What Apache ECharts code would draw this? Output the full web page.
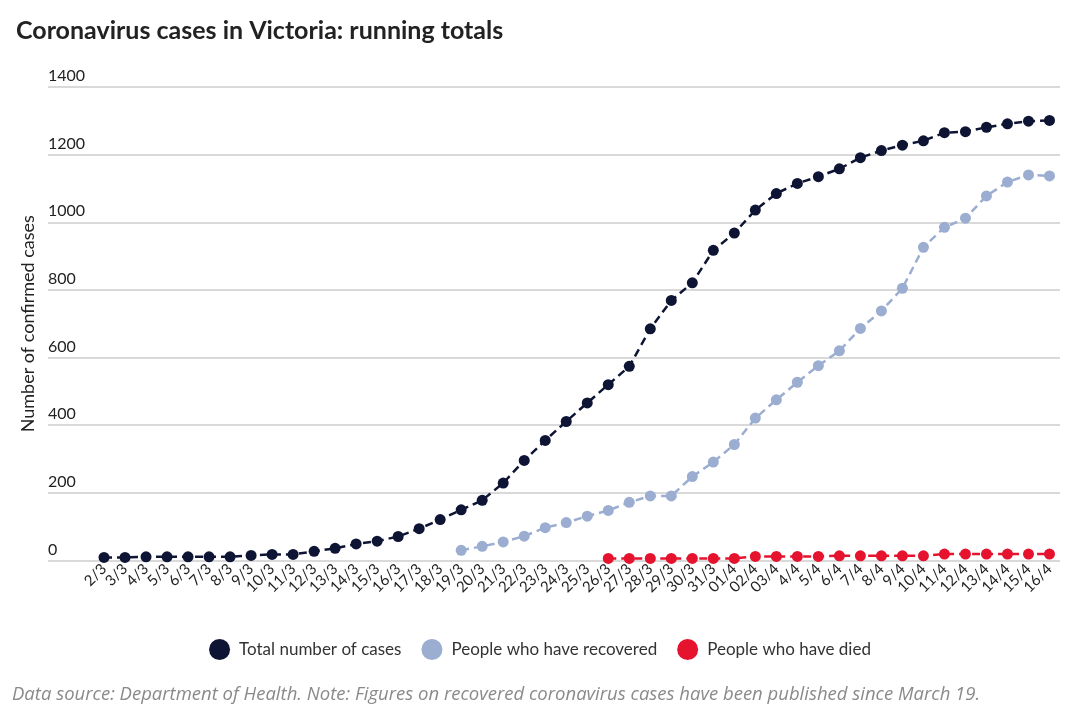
<!DOCTYPE html>
<html>
<head>
<meta charset="utf-8">
<script src="https://cdn.jsdelivr.net/npm/echarts@6/dist/echarts.min.js"></script>
<style>
html,body{margin:0;padding:0;background:#fff;}
#chart{width:1080px;height:718px;}
</style>
</head>
<body>
<div id="chart"></div>
<script>
const dates = ['2/3','3/3','4/3','5/3','6/3','7/3','8/3','9/3','10/3','11/3','12/3','13/3','14/3','15/3','16/3','17/3','18/3','19/3','20/3','21/3','22/3','23/3','24/3','25/3','26/3','27/3','28/3','29/3','30/3','31/3','01/4','02/4','03/4','4/4','5/4','6/4','7/4','8/4','9/4','10/4','11/4','12/4','13/4','14/4','15/4','16/4'];
const totalCases = [9,9,11,11,11,11,11,15,18,18,27,36,49,57,71,94,121,150,178,229,296,355,411,466,520,574,685,769,821,917,968,1036,1085,1115,1135,1158,1191,1212,1228,1241,1265,1268,1281,1291,1299,1301];
const recoveredStart = 17;
const recoveredVals = [30,42,55,72,97,112,131,148,172,191,191,248,291,343,421,475,527,576,620,686,738,805,926,985,1012,1078,1119,1140,1137];
const diedStart = 24;
const diedVals = [6,6,6,6,6,6,6,12,12,12,12,14,14,14,14,14,19,19,19,19,19,19];
const yTicks = [0,200,400,600,800,1000,1200,1400];
const seriesNames = ['Total number of cases','People who have recovered','People who have died'];
const colors = ['#0e1433','#9badd1','#e5132e'];

function pad(start, vals){
  const arr = dates.map(()=>null);
  vals.forEach((v,i)=>{arr[start+i]=v;});
  return arr;
}
const recovered = pad(recoveredStart, recoveredVals);
const died = pad(diedStart, diedVals);

const FONT = 'Lato';
const chart = echarts.init(document.getElementById('chart'));
const mkSeries = (name, data, color, z) => ({
  name, type:'line', data, xAxisIndex:1, yAxisIndex:1,
  symbol:'circle', symbolSize:11, z,
  itemStyle:{color},
  lineStyle:{color, width:2.5, type:[8,5]},
  connectNulls:false, animation:false
});
chart.setOption({
  animation:false,
  color: colors,
  title:{
    text:'Coronavirus cases in Victoria: running totals',
    left:11, top:13,
    textStyle:{fontFamily:FONT, fontSize:25, fontWeight:'bold', color:'#222'}
  },
  grid:[
    {left:48, right:20, top:87, bottom:157.5},
    {left:93.5, right:20, top:87, bottom:157.5}
  ],
  xAxis:[
    {type:'value', gridIndex:0, show:false, min:0, max:1},
    {type:'category', gridIndex:1, data:dates, boundaryGap:true,
      axisLine:{show:false}, axisTick:{show:false},
      axisLabel:{interval:0, rotate:45, fontFamily:FONT, fontSize:15, color:'#222', margin:6}
    }
  ],
  yAxis:[
    {type:'value', gridIndex:0, min:0, max:1400, interval:200,
      name:'Number of confirmed cases', nameLocation:'middle', nameGap:10,
      nameTextStyle:{fontFamily:FONT, fontSize:18, color:'#222'},
      axisLine:{show:false}, axisTick:{show:false},
      splitLine:{lineStyle:{color:'#cccccc', width:1.5}},
      axisLabel:{inside:true, margin:0, verticalAlign:'bottom', padding:[0,0,3,0],
        fontFamily:FONT, fontSize:16, color:'#222',
        formatter:(v)=> yTicks.includes(v) ? String(v) : ''}
    },
    {type:'value', gridIndex:1, min:0, max:1400, interval:200, show:false}
  ],
  legend:{
    data:seriesNames, top:634, left:'center',
    icon:'circle', itemWidth:21, itemHeight:21, itemGap:20,
    textStyle:{fontFamily:FONT, fontSize:17, color:'#333', padding:[0,0,0,4]}
  },
  graphic:[{
    type:'text', left:12, top:685,
    style:{text:'Data source: Department of Health. Note: Figures on recovered coronavirus cases have been published since March 19.',
      font:'italic 18.5px "Open Sans"', fill:'#8a8a8a'}
  }],
  series:[
    mkSeries(seriesNames[0], totalCases, colors[0], 3),
    mkSeries(seriesNames[1], recovered, colors[1], 2),
    mkSeries(seriesNames[2], died, colors[2], 4)
  ]
});
</script>
</body>
</html>
